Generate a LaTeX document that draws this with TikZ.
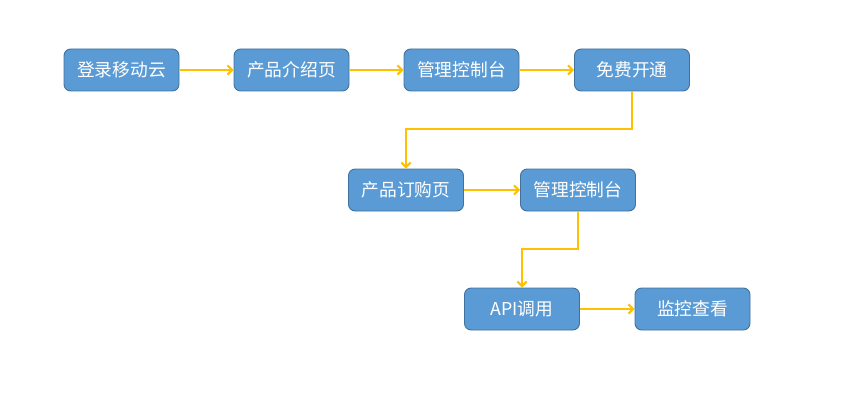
\documentclass[tikz,border=0pt]{standalone}
\usepackage{fontspec}
\newfontfamily\cjk{Noto Sans CJK SC}
\usetikzlibrary{positioning,arrows.meta}
\definecolor{boxfill}{HTML}{5B9BD5}
\definecolor{boxline}{HTML}{41719C}
\definecolor{linkcol}{HTML}{FFC000}
\tikzset{
  stepbox/.style={draw=boxline,fill=boxfill,line width=0.7pt,rounded corners=5pt,
    minimum width=86.25pt,minimum height=31.5pt,inner sep=0pt,text=white,
    font=\cjk\fontsize{13.3}{15}\selectfont},
  link/.style={draw=linkcol,line width=1.5pt,-{Straight Barb[length=3.5pt,width=7pt]}}
}

\begin{document}
\begin{tikzpicture}[x=0.75pt,y=-0.75pt]
  \useasboundingbox (0,0) rectangle (857,403);
  % first row
  \node[stepbox] (login)   at (121.5,70) {登录移动云};
  \node[stepbox] (intro)   at (291.5,70) {产品介绍页};
  \node[stepbox] (console) at (461.5,70) {管理控制台};
  \node[stepbox] (free)    at (632,70) {免费开通};
  % second row
  \node[stepbox] (order)    at (406,190) {产品订购页};
  \node[stepbox] (consoleb) at (578,190) {管理控制台};
  % third row
  \node[stepbox] (api)     at (522,309) {API调用};
  \node[stepbox] (monitor) at (692.5,309) {监控查看};

  \draw[link] (login) -- (intro);
  \draw[link] (intro) -- (console);
  \draw[link] (console) -- (free);
  \draw[link] (free.south) -- ++(0,38) -| (order.north);
  \draw[link] (order) -- (consoleb);
  \draw[link] (consoleb.south) -- ++(0,38) -| (api.north);
  \draw[link] (api) -- (monitor);
\end{tikzpicture}
\end{document}
